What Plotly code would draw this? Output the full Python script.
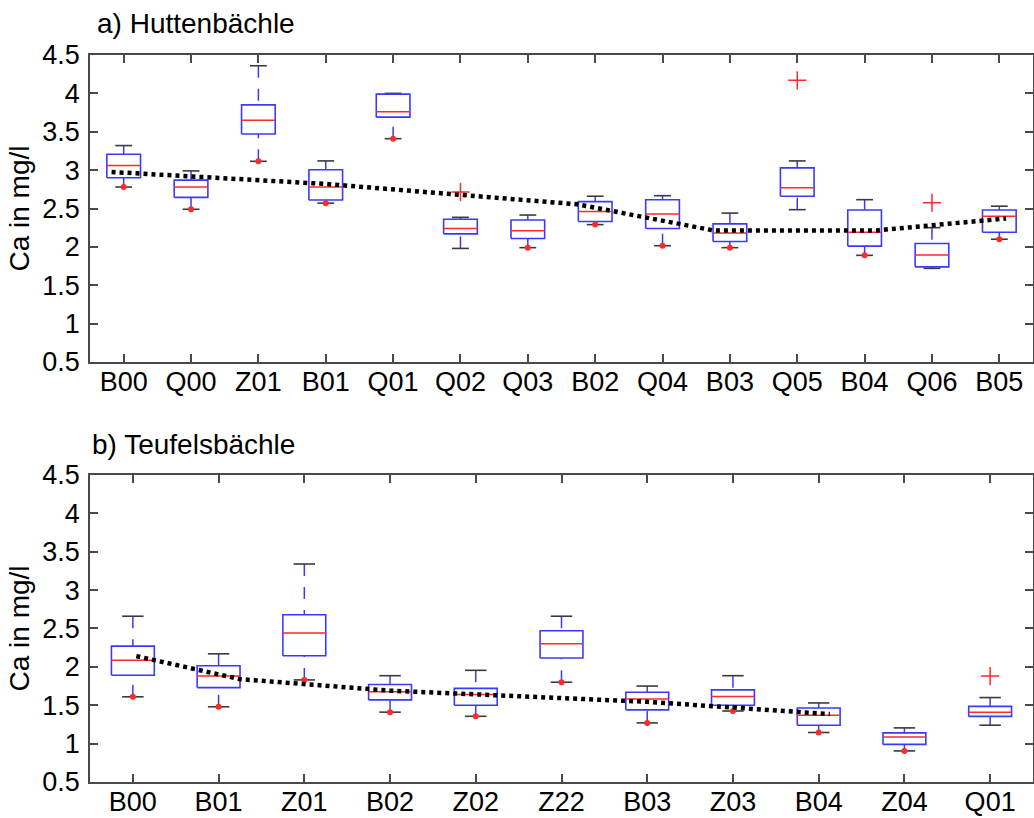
import plotly.graph_objects as go

# ---------------- data: a) Huttenbächle ----------------
top_names = ["B00", "Q00", "Z01", "B01", "Q01", "Q02", "Q03", "B02", "Q04", "B03", "Q05", "B04", "Q06", "B05"]
top_q1 = [2.90, 2.645, 3.47, 2.61, 3.69, 2.17, 2.11, 2.33, 2.24, 2.07, 2.66, 2.01, 1.74, 2.19]
top_med = [3.06, 2.78, 3.65, 2.78, 3.76, 2.24, 2.21, 2.46, 2.43, 2.18, 2.77, 2.19, 1.895, 2.40]
top_q3 = [3.206, 2.87, 3.85, 3.005, 3.99, 2.36, 2.35, 2.59, 2.615, 2.30, 3.03, 2.48, 2.045, 2.48]
top_lo = [2.78, 2.49, 3.115, 2.57, 3.41, 1.98, 1.99, 2.29, 2.015, 1.99, 2.485, 1.89, 1.72, 2.10]
top_hi = [3.32, 2.99, 4.36, 3.12, 4.00, 2.385, 2.415, 2.66, 2.667, 2.44, 3.12, 2.615, 2.25, 2.53]
top_dot = [2.78, 2.49, 3.115, 2.57, 3.41, None, 1.99, 2.29, 2.015, 1.99, None, 1.89, None, 2.10]
top_out_cat = ["Q02", "Q05", "Q06"]
top_out_val = [2.715, 4.17, 2.575]
top_trend_x = [0.82, 4.0, 7.73, 9.75, 12.18, 14.1]
top_trend_y = [2.976, 2.82, 2.555, 2.215, 2.215, 2.37]

# ---------------- data: b) Teufelsbächle ----------------
bot_names = ["B00", "B01", "Z01", "B02", "Z02", "Z22", "B03", "Z03", "B04", "Z04", "Q01"]
bot_q1 = [1.89, 1.73, 2.145, 1.57, 1.50, 2.115, 1.44, 1.50, 1.24, 0.99, 1.355]
bot_med = [2.085, 1.88, 2.44, 1.675, 1.64, 2.30, 1.58, 1.615, 1.37, 1.085, 1.41]
bot_q3 = [2.27, 2.015, 2.68, 1.77, 1.72, 2.47, 1.67, 1.70, 1.465, 1.14, 1.485]
bot_lo = [1.61, 1.48, 1.83, 1.41, 1.356, 1.80, 1.27, 1.425, 1.145, 0.905, 1.24]
bot_hi = [2.66, 2.17, 3.34, 1.885, 1.955, 2.66, 1.75, 1.885, 1.53, 1.205, 1.60]
bot_dot = [1.61, 1.48, 1.83, 1.41, 1.356, 1.80, 1.27, 1.425, 1.145, 0.905, None]
bot_out_cat = ["Q01"]
bot_out_val = [1.88]
bot_trend_x = [1.04, 2.25, 4.0, 7.0, 9.13]
bot_trend_y = [2.14, 1.84, 1.69, 1.545, 1.385]

# ---------------- style ----------------
BLUE = "#3a3aff"
RED = "#ff2a2a"
CAP = "#3a3a3a"
FRAME = "#4a4a4a"
FONT = "Liberation Sans, Arial, sans-serif"
TICK_SIZE = 27
TITLE_SIZE = 28
HALF = 0.25      # half box width (category units)
CAPHALF = 0.125  # half cap width

fig = go.Figure()


def add_panel(names, q1, med, q3, lo, hi, dots, out_cat, out_val, tx, ty, xa, ya):
    pos = list(range(1, len(names) + 1))
    bx, by, mx, my, wx, wy, cx, cy = [], [], [], [], [], [], [], []
    for p, a, m, b, l, h in zip(pos, q1, med, q3, lo, hi):
        bx += [p - HALF, p + HALF, p + HALF, p - HALF, p - HALF, None]
        by += [a, a, b, b, a, None]
        mx += [p - HALF, p + HALF, None]
        my += [m, m, None]
        wx += [p, p, None, p, p, None]
        wy += [h, b, None, l, a, None]
        cx += [p - CAPHALF, p + CAPHALF, None, p - CAPHALF, p + CAPHALF, None]
        cy += [h, h, None, l, l, None]
    common = dict(xaxis=xa, yaxis=ya, showlegend=False, hoverinfo="skip")
    fig.add_trace(go.Scatter(x=wx, y=wy, mode="lines",
                             line=dict(color=BLUE, width=1.5, dash="12px,11px"), **common))
    fig.add_trace(go.Scatter(x=cx, y=cy, mode="lines",
                             line=dict(color=CAP, width=1.6), **common))
    fig.add_trace(go.Scatter(x=bx, y=by, mode="lines",
                             line=dict(color=BLUE, width=1.6), **common))
    fig.add_trace(go.Scatter(x=mx, y=my, mode="lines",
                             line=dict(color=RED, width=1.5), **common))
    dx = [p for p, d in zip(pos, dots) if d is not None]
    dy = [d for d in dots if d is not None]
    fig.add_trace(go.Scatter(x=dx, y=dy, mode="markers",
                             marker=dict(color=RED, size=6), **common))
    ox = [names.index(c) + 1 for c in out_cat]
    fig.add_trace(go.Scatter(x=ox, y=out_val, mode="markers",
                             marker=dict(symbol="cross-thin", size=13,
                                         line=dict(color=RED, width=1.5)), **common))
    fig.add_trace(go.Scatter(x=tx, y=ty, mode="lines",
                             line=dict(color="black", width=4.5, dash="4px,4px"), **common))


add_panel(top_names, top_q1, top_med, top_q3, top_lo, top_hi, top_dot,
          top_out_cat, top_out_val, top_trend_x, top_trend_y, "x", "y")
add_panel(bot_names, bot_q1, bot_med, bot_q3, bot_lo, bot_hi, bot_dot,
          bot_out_cat, bot_out_val, bot_trend_x, bot_trend_y, "x2", "y2")

axis_common = dict(showline=True, linecolor=FRAME, linewidth=1.5, mirror="ticks",
                   ticks="inside", ticklen=8, tickwidth=1.5, tickcolor=FRAME,
                   showgrid=False, zeroline=False, automargin=False,
                   tickfont=dict(family=FONT, size=TICK_SIZE, color="black"))

yvals = [0.5, 1, 1.5, 2, 2.5, 3, 3.5, 4, 4.5]

fig.update_layout(
    width=1034, height=818,
    margin=dict(l=90, r=1, t=55, b=36),
    paper_bgcolor="white", plot_bgcolor="white",
    font=dict(family=FONT, size=TICK_SIZE, color="black"),
    xaxis=dict(domain=[0, 1], anchor="y", range=[0.5, len(top_names) + 0.5],
               tickvals=list(range(1, len(top_names) + 1)), ticktext=top_names,
               ticklabelstandoff=-5, **axis_common),
    yaxis=dict(domain=[0.5777, 1], anchor="x", range=[0.5, 4.5], tickvals=yvals,
               ticklabelstandoff=3,
               title=dict(text="Ca in mg/l", font=dict(family=FONT, size=TITLE_SIZE), standoff=4),
               **axis_common),
    xaxis2=dict(domain=[0, 1], anchor="y2", range=[0.5, len(bot_names) + 0.5],
                tickvals=list(range(1, len(bot_names) + 1)), ticktext=bot_names,
                ticklabelstandoff=-5, **axis_common),
    yaxis2=dict(domain=[0, 0.4223], anchor="x2", range=[0.5, 4.5], tickvals=yvals,
                ticklabelstandoff=3,
                title=dict(text="Ca in mg/l", font=dict(family=FONT, size=TITLE_SIZE), standoff=4),
                **axis_common),
    annotations=[
        dict(text="a) Huttenbächle", xref="x domain", yref="y domain", x=0, y=1,
             xanchor="left", yanchor="middle", xshift=5, yshift=32, showarrow=False,
             font=dict(family=FONT, size=TITLE_SIZE, color="black")),
        dict(text="b) Teufelsbächle", xref="x2 domain", yref="y2 domain", x=0, y=1,
             xanchor="left", yanchor="middle", xshift=0, yshift=30, showarrow=False,
             font=dict(family=FONT, size=TITLE_SIZE, color="black")),
    ],
)

fig.write_html("out.html")
